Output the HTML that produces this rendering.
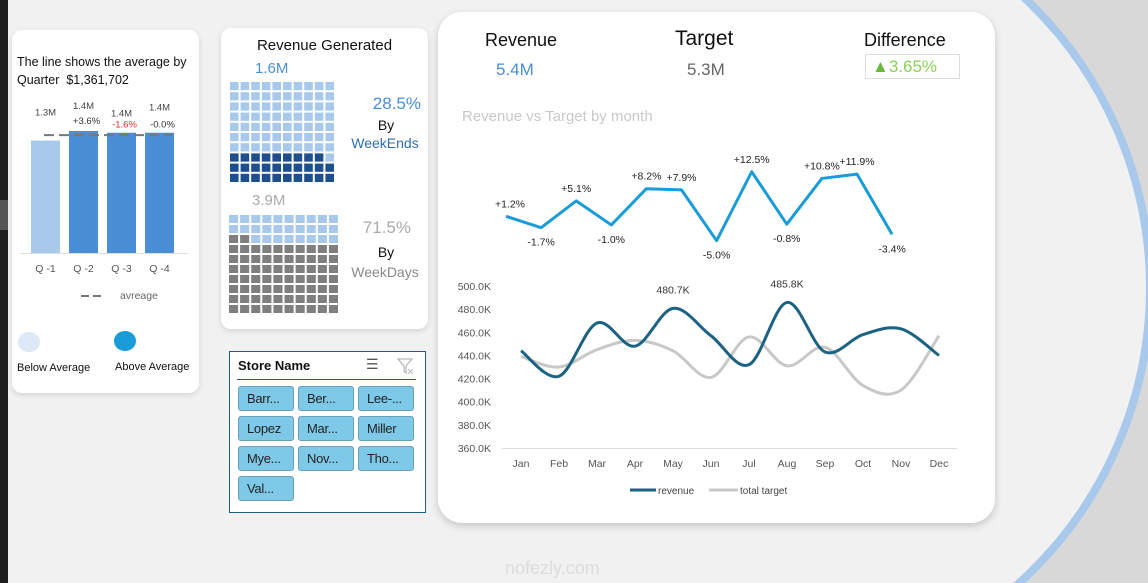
<!DOCTYPE html>
<html><head><meta charset="utf-8">
<style>
*{margin:0;padding:0;box-sizing:border-box}
html,body{width:1148px;height:583px;overflow:hidden}
body{background:#f1f1f1;font-family:"Liberation Sans",sans-serif;position:relative}
.abs{position:absolute}
.card{position:absolute;background:#fff;box-shadow:0 2px 6px rgba(0,0,0,0.12)}
.t{position:absolute;white-space:nowrap;line-height:1.15}
.btn{position:absolute;width:56px;height:25px;background:#7ec8e8;border:1px solid #6a9fb8;border-radius:3px;font-family:"Liberation Sans Narrow","Liberation Sans",sans-serif;font-size:13px;letter-spacing:-0.3px;line-height:23px;padding-left:8px;color:#222;overflow:hidden}
</style></head><body>
<svg class="abs" style="left:0;top:0" width="1148" height="583">
<defs><clipPath id="rc"><rect x="960" y="0" width="200" height="583"/></clipPath></defs>
<rect x="0" y="0" width="1148" height="583" fill="#f1f1f1"/>
<g clip-path="url(#rc)">
<rect x="960" y="0" width="200" height="583" fill="#d8d8d8"/>
<circle cx="752" cy="288" r="398" fill="#f1f1f1" stroke="#a8c8ec" stroke-width="8"/>
</g>
<rect x="0" y="0" width="8" height="583" fill="#1e1e1e"/>
<rect x="0" y="200" width="8" height="30" fill="#555"/>
</svg>

<!-- Left card -->
<div class="card" style="left:12px;top:30px;width:187px;height:363px;border-radius:10px">
<div class="t" style="left:5px;top:23px;font-size:12.5px;line-height:18px;color:#111">The line shows the average by<br>Quarter&nbsp; $1,361,702</div>
<svg class="abs" style="left:0;top:0" width="187" height="363" id="qsvg"></svg>
</div>

<!-- Revenue Generated -->
<div class="card" style="left:221px;top:28px;width:207px;height:301px;border-radius:10px">
<svg class="abs" style="left:0;top:0" width="207" height="301" id="wsvg"></svg>
<div class="t" style="left:0;width:207px;text-align:center;top:9px;font-size:15px;color:#111">Revenue Generated</div>
<div class="t" style="left:34px;top:32px;font-size:15px;color:#4a8fd6">1.6M</div>
<div class="t" style="left:31px;top:164px;font-size:15px;color:#aaa">3.9M</div>
<div class="t" style="left:130px;top:66px;width:70px;text-align:right;font-size:17px;color:#4a8fd6">28.5%</div>
<div class="t" style="left:130px;top:89px;width:70px;text-align:center;font-size:14px;color:#111">By</div>
<div class="t" style="left:128px;top:107px;width:72px;text-align:center;font-size:14px;color:#2e6fae">WeekEnds</div>
<div class="t" style="left:128px;top:190px;width:62px;text-align:right;font-size:17px;color:#aaa">71.5%</div>
<div class="t" style="left:130px;top:216px;width:70px;text-align:center;font-size:14px;color:#111">By</div>
<div class="t" style="left:128px;top:236px;width:72px;text-align:center;font-size:14px;color:#888">WeekDays</div>
</div>

<!-- Slicer -->
<div class="abs" style="left:229px;top:351px;width:197px;height:162px;background:#fff;border:1px solid #1f5f7a">
<div class="t" style="left:8px;top:7px;font-size:13px;font-weight:bold;color:#111">Store Name</div>
<div class="t" style="left:136px;top:4px;font-size:14px;color:#555">☰</div>
<svg class="abs" style="left:166px;top:5px" width="18" height="18"><path d="M2 2 H16 L10 9 V16 L8 14 V9 Z" fill="none" stroke="#aaa" stroke-width="1"/><path d="M12 12 L17 17 M17 12 L12 17" stroke="#bbb" stroke-width="1"/></svg>
<div class="abs" style="left:7px;top:27px;width:179px;height:1px;background:#1f5f7a"></div>
<div class="btn" style="left:8px;top:34px">Barr...</div>
<div class="btn" style="left:68px;top:34px">Ber...</div>
<div class="btn" style="left:128px;top:34px">Lee-...</div>
<div class="btn" style="left:8px;top:64px">Lopez</div>
<div class="btn" style="left:68px;top:64px">Mar...</div>
<div class="btn" style="left:128px;top:64px">Miller</div>
<div class="btn" style="left:8px;top:94px">Mye...</div>
<div class="btn" style="left:68px;top:94px">Nov...</div>
<div class="btn" style="left:128px;top:94px">Tho...</div>
<div class="btn" style="left:8px;top:124px">Val...</div>
</div>

<div class="t" style="left:505px;top:558px;font-size:18px;line-height:20px;color:#dcdcdc">nofezly.com</div>

<!-- Main card -->
<div class="card" style="left:438px;top:12px;width:557px;height:511px;border-radius:24px;box-shadow:0 3px 8px rgba(0,0,0,0.18)">
<div class="t" style="left:47px;top:18px;font-size:18px;color:#111">Revenue</div>
<div class="t" style="left:58px;top:48px;font-size:17px;color:#4a8fd6">5.4M</div>
<div class="t" style="left:237px;top:15px;font-size:21px;color:#111">Target</div>
<div class="t" style="left:249px;top:48px;font-size:17px;color:#666">5.3M</div>
<div class="t" style="left:426px;top:18px;font-size:18px;color:#111">Difference</div>
<div class="abs" style="left:427px;top:42px;width:95px;height:25px;border:1px solid #ddd;font-size:17px;line-height:23px;padding-left:6px;color:#8ccf5a"><span style="color:#6ab83a">▲</span>3.65%</div>
<div class="t" style="left:24px;top:96px;font-size:15px;color:#c8c8c8">Revenue vs Target by month</div>
</div>
<svg class="abs" style="left:0;top:0" width="1148" height="583" id="msvg"></svg>

<script>
const quarters=["Q -1","Q -2","Q -3","Q -4"];
const quarterValues=[1.30,1.41,1.39,1.39];
const quarterLabels=["1.3M","1.4M","1.4M","1.4M"];
const quarterChange=["","+3.6%","-1.6%","-0.0%"];
const quarterAvg=1.3617;

const weekendPct=28.5;
const weekdayPct=71.5;

const months=["Jan","Feb","Mar","Apr","May","Jun","Jul","Aug","Sep","Oct","Nov","Dec"];
const diffPct=[1.2,-1.7,5.1,-1.0,8.2,7.9,-5.0,12.5,-0.8,10.8,11.9,-3.4];
const revenueK=[444,422,468,448,480.7,457,432,485.8,443,458,463,440];
const targetK=[439,430,445,453,444,421,456,431,447,414,410,457];
const yTicks=[360,380,400,420,440,460,480,500];
const peakLabels=["","","","","480.7K","","","485.8K","","","",""];

const NS="http://www.w3.org/2000/svg";
function mk(parent,tag,attrs,text){const e=document.createElementNS(NS,tag);for(const k in attrs)e.setAttribute(k,attrs[k]);if(text!==undefined)e.textContent=text;parent.appendChild(e);return e;}

(function(){
const s=document.getElementById('qsvg');
const base=223, scale=v=>base-(v/1.41)*122;
const bx=i=>19+i*38, bw=29;
mk(s,'line',{x1:8,y1:base+0.5,x2:176,y2:base+0.5,stroke:'#ddd'});
quarterValues.forEach((v,i)=>{
 const r=mk(s,'rect',{x:bx(i),y:scale(v),width:bw,height:base-scale(v),fill:v<quarterAvg?'#a9c9ec':'#4a8fd6'});
 
 
 const t=mk(s,'text',{x:bx(i)+bw/2,y:scale(v)-(i%2?22:25)+(i==2?9:0),'text-anchor':'middle','font-size':'9.5',fill:'#444'},quarterLabels[i]);
 
 
 if(quarterChange[i]){
  const c=mk(s,'text',{x:bx(i)+bw/2+3,y:scale(v)-7+(i==2?2:0)+(i==3?2:0),'text-anchor':'middle','font-size':'9.5',fill:quarterChange[i]==="-1.6%"?'#e03030':'#333'},quarterChange[i]);
  
  
 }
 const q=mk(s,'text',{x:bx(i)+bw/2,y:242,'text-anchor':'middle','font-size':'10.5',fill:'#555'},quarters[i]);
 
 
});
const ay=scale(quarterAvg);
const al=mk(s,'line',{x1:32,y1:ay,x2:160,y2:ay,stroke:'#777','stroke-width':2,'stroke-dasharray':'10 5'});


mk(s,'line',{x1:69,y1:266,x2:90,y2:266,stroke:'#777','stroke-width':2,'stroke-dasharray':'8 4'});
mk(s,'text',{x:108,y:269,'font-size':'10.5',fill:'#666'},'avreage');
mk(s,'ellipse',{cx:17,cy:312,rx:11,ry:10,fill:'#dde9f6'});
mk(s,'ellipse',{cx:113,cy:311,rx:11,ry:10,fill:'#1a9cd8'});
mk(s,'text',{x:5,y:341,'font-size':'11',fill:'#111'},'Below Average');
mk(s,'text',{x:103,y:340,'font-size':'11',fill:'#111'},'Above Average');
})();

(function(){
const s=document.getElementById('wsvg');
function waffle(x0,y0,cw,ch,pct,on,off,name){
 const n=Math.round(pct);
 const g=mk(s,'g',{});
 
 
 for(let r=0;r<10;r++)for(let c=0;c<10;c++){
  const idx=(9-r)*10+c;
  mk(g,'rect',{x:x0+c*cw,y:y0+r*ch,width:cw-2,height:ch-2,fill:idx<n?on:off});
 }
}
waffle(9,54,10.6,10.2,weekendPct,'#1f4e8c','#a9c9ec','weekend-waffle');
waffle(8,187,11.1,10.0,weekdayPct,'#7f7f7f','#a9c9ec','weekday-waffle');
})();

(function(){
const s=document.getElementById('msvg');
const dx=i=>506+i*35.1, dy=v=>221-v*3.94;
let d=diffPct.map((v,i)=>(i?'L':'M')+dx(i)+' '+dy(v)).join(' ');
const dl=mk(s,'path',{d:d,fill:'none',stroke:'#1a9cd8','stroke-width':3,'stroke-linejoin':'round'});


diffPct.forEach((v,i)=>{
 const prev=i>0?diffPct[i-1]:Infinity, next=i<11?diffPct[i+1]:Infinity;
 const below=v<prev&&v<next;
 const t=mk(s,'text',{x:dx(i)+(i==0?4:0),y:below?dy(v)+18:dy(v)-9,'text-anchor':'middle','font-size':'10.5',fill:'#222'},(v>0?'+':'')+v.toFixed(1)+'%');
 
 
});
const mx=i=>521+i*38, my=v=>448-(v-360)*(162/140);
yTicks.forEach(v=>{
 const t=mk(s,'text',{x:491,y:my(v)+4,'text-anchor':'end','font-size':'10.5',fill:'#555'},v.toFixed(1)+'K');
 
 
});
mk(s,'line',{x1:502,y1:448.5,x2:957,y2:448.5,stroke:'#ddd'});
months.forEach((m,i)=>{
 const t=mk(s,'text',{x:mx(i),y:467,'text-anchor':'middle','font-size':'10.5',fill:'#555'},m);
 
 
});
function smooth(vals){
 const p=vals.map((v,i)=>[mx(i),my(v)]);
 let str='M'+p[0][0]+' '+p[0][1];
 for(let i=0;i<p.length-1;i++){
  const p0=p[i-1]||p[i],p1=p[i],p2=p[i+1],p3=p[i+2]||p2;
  const c1=[p1[0]+(p2[0]-p0[0])/6,p1[1]+(p2[1]-p0[1])/6];
  const c2=[p2[0]-(p3[0]-p1[0])/6,p2[1]-(p3[1]-p1[1])/6];
  str+=` C${c1[0]} ${c1[1]} ${c2[0]} ${c2[1]} ${p2[0]} ${p2[1]}`;
 }
 return str;
}
const tl=mk(s,'path',{d:smooth(targetK),fill:'none',stroke:'#c8c8c8','stroke-width':3});


const rl=mk(s,'path',{d:smooth(revenueK),fill:'none',stroke:'#1b6283','stroke-width':3});


peakLabels.forEach((l,i)=>{if(!l)return;
 const t=mk(s,'text',{x:mx(i),y:my(revenueK[i])-15,'text-anchor':'middle','font-size':'10.5',fill:'#333'},l);
 
 
});
const lg=mk(s,'g',{});


mk(lg,'line',{x1:630,y1:490,x2:656,y2:490,stroke:'#1b6283','stroke-width':3});
mk(lg,'text',{x:658,y:494,'font-size':'10',fill:'#444'},'revenue');
mk(lg,'line',{x1:709,y1:490,x2:738,y2:490,stroke:'#c8c8c8','stroke-width':3});
mk(lg,'text',{x:740,y:494,'font-size':'10',fill:'#444'},'total target');
})();
</script>
</body></html>
